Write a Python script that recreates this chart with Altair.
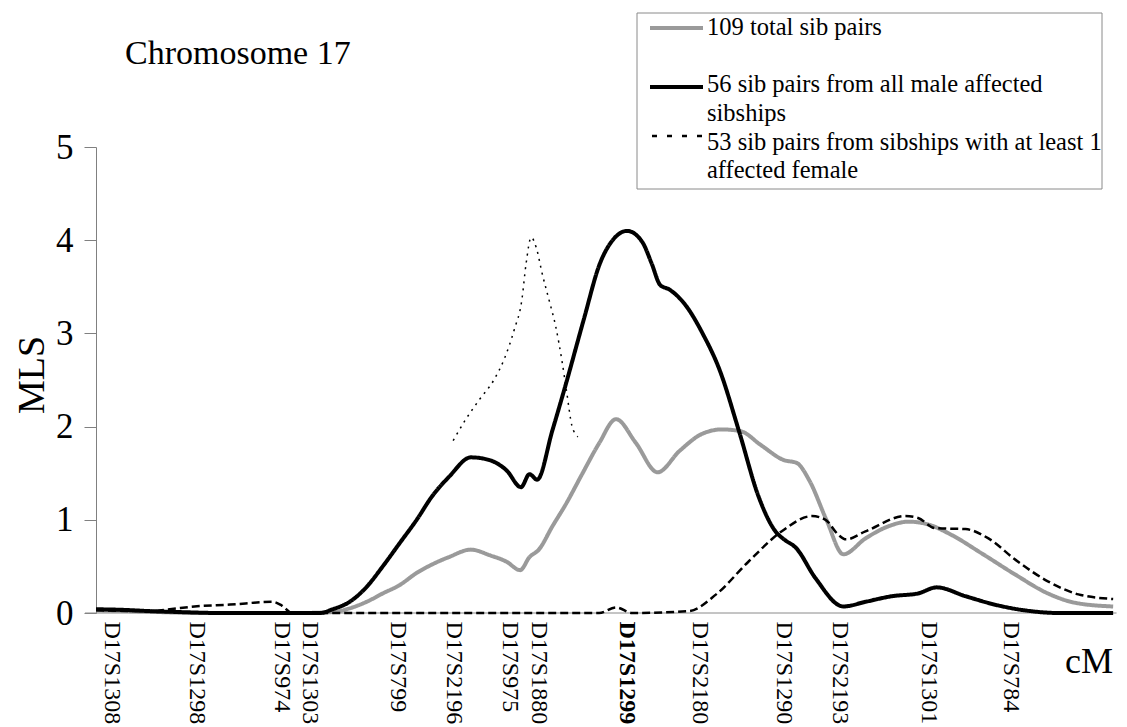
import altair as alt
import pandas as pd

# ---------------- data ----------------
markers = ["D17S1308", "D17S1298", "D17S974", "D17S1303", "D17S799", "D17S2196",
           "D17S975", "D17S1880", "D17S1299", "D17S2180", "D17S1290", "D17S2193",
           "D17S1301", "D17S784"]
marker_cm = [1.8, 11.9, 21.9, 25.2, 35.5, 42.1, 48.8, 52.2, 62.5, 71.1, 81.1, 87.6, 98.1, 107.8]

total_cm = [0, 4.0, 7.5, 12.2, 24.0, 27.9, 29.9, 31.9, 33.8, 35.8, 37.8, 39.6, 41.6, 44.2, 46.4,
            48.4, 50.0, 51.1, 52.2, 53.8, 55.4, 57.3, 59.3, 61.3, 63.6, 66.2, 68.8, 71.4, 73.8,
            76.0, 78.4, 81.1, 82.6, 84.1, 86.1, 88.1, 90.7, 93.4, 95.8, 98.1, 100.8, 104.4,
            108.4, 112.2, 115.4, 119.9]
total_mls = [0.03, 0.02, 0.01, 0.0, 0.0, 0.01, 0.05, 0.12, 0.21, 0.30, 0.43, 0.52, 0.60, 0.68, 0.62,
             0.55, 0.46, 0.60, 0.68, 0.93, 1.17, 1.49, 1.82, 2.08, 1.83, 1.51, 1.74, 1.92, 1.97,
             1.95, 1.80, 1.64, 1.61, 1.42, 1.00, 0.63, 0.80, 0.93, 0.98, 0.95, 0.84, 0.64,
             0.41, 0.21, 0.11, 0.07]

male_cm = [0, 2.8, 6.4, 9.9, 14.6, 26.4, 27.9, 29.9, 31.9, 33.8, 35.8, 37.8, 39.6, 41.6, 44.2,
           46.4, 48.4, 50.1, 51.1, 52.0, 53.8, 55.4, 57.5, 59.4, 60.9, 62.6, 64.4, 65.5, 66.5,
           67.6, 69.6, 71.5, 73.5, 75.8, 78.1, 80.1, 81.1, 82.5, 84.8, 88.1, 90.7, 93.8, 96.9,
           99.1, 102.5, 106.4, 110.2, 113.4, 119.9]
male_mls = [0.04, 0.035, 0.02, 0.01, 0.0, 0.0, 0.04, 0.12, 0.28, 0.50, 0.75, 1.00, 1.25, 1.46, 1.67,
            1.64, 1.53, 1.35, 1.49, 1.43, 1.96, 2.46, 3.15, 3.75, 4.00, 4.10, 3.98, 3.75, 3.52,
            3.47, 3.29, 3.00, 2.61, 1.95, 1.25, 0.875, 0.79, 0.70, 0.375, 0.07, 0.12, 0.18, 0.21,
            0.275, 0.18, 0.08, 0.02, 0.0, 0.0]

female_cm = [0, 6.4, 8.7, 11.6, 15.8, 20.8, 21.9, 23.1, 35.0, 47.0, 59.3, 61.3, 63.2, 69.9,
             73.1, 76.9, 80.8, 84.4, 86.0, 87.5, 88.4, 90.7, 95.4, 96.9, 98.9, 102.5, 105.2,
             108.4, 112.2, 115.8, 119.9]
female_mls = [0.03, 0.02, 0.04, 0.07, 0.09, 0.12, 0.08, 0.0, 0.0, 0.0, 0.0, 0.06, 0.0, 0.02,
              0.20, 0.55, 0.875, 1.04, 1.00, 0.84, 0.79, 0.875, 1.04, 1.02, 0.91, 0.90, 0.80,
              0.57, 0.34, 0.20, 0.15]

spike_cm = [42.1, 43.6, 45.2, 46.9, 48.1, 49.3, 50.2, 50.7, 51.3, 51.9, 52.6, 53.4, 54.2, 54.9,
            55.5, 56.1, 56.8]
spike_mls = [1.85, 2.08, 2.29, 2.50, 2.72, 3.04, 3.36, 3.75, 4.03, 3.92, 3.64, 3.36, 3.07, 2.72,
             2.36, 2.01, 1.89]

legend_lines = ["109 total sib pairs",
                "56 sib pairs from all male affected",
                "sibships",
                "53 sib pairs from sibships with at least 1",
                "affected female"]

FONT = "Liberation Serif"
W, H = 1018, 466
X_DOM = [0, 120]
Y_DOM = [0, 5]

xscale = alt.Scale(domain=X_DOM, nice=False, zero=False)
yscale = alt.Scale(domain=Y_DOM, nice=False, zero=False)

names_js = "[" + ",".join("'%s'" % m for m in markers) + "]"
pos_js = "[" + ",".join(str(v) for v in marker_cm) + "]"
label_expr = names_js + "[indexof(" + pos_js + ", datum.value)]"

x_axis = alt.Axis(values=marker_cm, labelExpr=label_expr, labelAngle=90, labelAlign="left",
                  labelBaseline="middle", labelPadding=8, ticks=False, domain=False,
                  grid=False, labelFont=FONT, labelFontSize=24, labelColor="black",
                  labelOverlap=False, labelFlush=False, labelBound=False, title=None,
                  labelFontWeight={"condition": {"test": "datum.value == 62.5", "value": "bold"},
                                   "value": "normal"})
y_axis = alt.Axis(values=[0, 1, 2, 3, 4, 5], tickSize=12, tickColor="#808080",
                  domainColor="#808080", grid=False, labelFont=FONT, labelFontSize=35,
                  labelColor="black", labelPadding=11, title=None, format="d")


def xy(xfield, yfield):
    return dict(x=alt.X(xfield, scale=xscale, axis=x_axis),
                y=alt.Y(yfield, scale=yscale, axis=y_axis))


def line(xs, ys, color, width, dash):
    return alt.Chart(pd.DataFrame({"cM": xs, "MLS": ys})).mark_line(
        interpolate="monotone", color=color, strokeWidth=width, strokeDash=dash,
        strokeCap="butt", strokeJoin="round").encode(**xy("cM:Q", "MLS:Q"))


one = pd.DataFrame({"a": [0]})

baseline = alt.Chart(pd.DataFrame({"cM": [-1.3], "cM2": [120.3], "MLS": [0]})).mark_rule(
    color="#8a8a8a", strokeWidth=1).encode(x2="cM2:Q", **xy("cM:Q", "MLS:Q"))

gray = line(total_cm, total_mls, "#9a9a9a", 4, [1, 0])
black = line(male_cm, male_mls, "black", 4, [1, 0])
dashed = line(female_cm, female_mls, "black", 2.5, [8, 4])
dotted = line(spike_cm, spike_mls, "black", 1.5, [2, 5])


def text_layer(txt, x, y, size, align="left", baseline_="alphabetic", angle=0):
    return alt.Chart(pd.DataFrame({"t": [txt]})).mark_text(
        font=FONT, fontSize=size, color="black", align=align, baseline=baseline_,
        angle=angle).encode(text="t:N", x=alt.value(x), y=alt.value(y))


title = text_layer("Chromosome 17", 29, -83, 34)
mls = text_layer("MLS", -63, 228, 38, align="center", baseline_="middle", angle=270)
cm = text_layer("cM", 969, 526, 36)

legend_box = alt.Chart(one).mark_rect(fill="white", stroke="#8a8a8a", strokeWidth=1).encode(
    x=alt.value(541), x2=alt.value(1006), y=alt.value(-134), y2=alt.value(42))

leg_gray = alt.Chart(one).mark_rule(color="#9a9a9a", strokeWidth=4).encode(
    x=alt.value(554), x2=alt.value(607), y=alt.value(-119))
leg_black = alt.Chart(one).mark_rule(color="black", strokeWidth=4).encode(
    x=alt.value(554), x2=alt.value(607), y=alt.value(-60))
leg_dash = alt.Chart(one).mark_rule(color="black", strokeWidth=2.5, strokeDash=[5, 10]).encode(
    x=alt.value(556), x2=alt.value(607), y=alt.value(-11))

leg_y = [-119, -62, -33, -4, 24]
leg_texts = [text_layer(t, 611, y, 24.5, baseline_="middle") for t, y in zip(legend_lines, leg_y)]

chart = alt.layer(
    gray, baseline, black, dashed, dotted,
    title, mls, cm, legend_box, leg_gray, leg_black, leg_dash, *leg_texts
).properties(
    width=W, height=H, autosize="none",
    padding={"left": 88, "top": 139, "right": 5, "bottom": 112},
    background="white"
).configure_view(stroke=None)

chart.save("out.html", embed_options={"renderer": "svg", "actions": False})
